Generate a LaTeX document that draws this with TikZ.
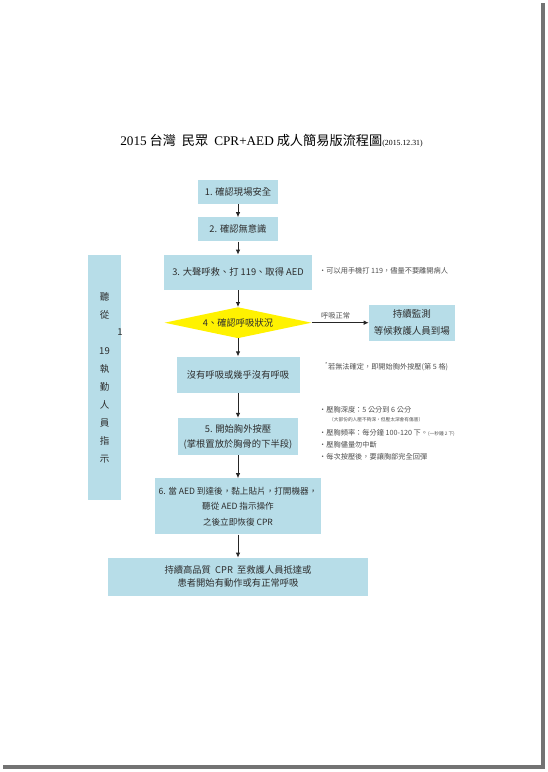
\documentclass[tikz,border=0pt]{standalone}
\usepackage{fontspec}
\setmainfont{Noto Sans CJK TC}
\newfontfamily\titlefont{Liberation Serif}
\usetikzlibrary{arrows.meta}
\usetikzlibrary{shapes.geometric,positioning}
\definecolor{boxblue}{RGB}{183,221,232}
\definecolor{alertyellow}{RGB}{255,242,0}
\definecolor{textgray}{RGB}{45,45,45}
\definecolor{notegray}{RGB}{80,80,80}

\begin{document}
\begin{tikzpicture}[x=1pt, y=-1pt,
    stepbox/.style={rectangle, fill=boxblue, text=textgray, align=center,
    inner sep=0pt, font=\fontsize{9.3}{15}\selectfont},
    decision/.style={diamond, aspect=4.74, fill=alertyellow, text=textgray, inner sep=0pt,
    font=\fontsize{9.3}{15}\selectfont},
    note/.style={anchor=west, text=notegray, inner sep=0pt, font=\fontsize{7.2}{9}\selectfont},
    tag/.style={text=notegray, inner sep=1pt, font=\fontsize{7.2}{9}\selectfont},
    flow/.style={draw=black!85, line width=0.8pt, -{Latex[length=5pt, width=4.5pt]}}]

    % page and its shadow
    \useasboundingbox (0,0) rectangle (547,772);
    \fill [black!55] (3,3) rectangle (545,769);
    \fill [white] (0,0) rectangle (541,765);

    \node (title) [text=black, font=\fontsize{13.2}{15}\selectfont] at (271.5,141)
    {{\titlefont 2015} 台灣\ \ 民眾\ \ {\titlefont CPR+AED} 成人簡易版流程圖{\titlefont\fontsize{7.8}{9}\selectfont(2015.12.31)}};

    \node (scene) [stepbox, minimum width=80pt, minimum height=24pt] at (238,192) {1. 確認現場安全};
    \node (conscious) [stepbox, minimum width=80pt, minimum height=24pt, below=13pt of scene] {2. 確認無意識};
    \node (call) [stepbox, minimum width=148pt, minimum height=35pt, below=13pt of conscious] {3. 大聲呼救、打 119、取得 AED};
    \node (check) [decision, minimum width=147pt, minimum height=31pt, below=17pt of call] {4、確認呼吸狀況};
    \node (nobreath) [stepbox, minimum width=123pt, minimum height=36pt, below=18pt of check] {沒有呼吸或幾乎沒有呼吸};
    \node (compress) [stepbox, minimum width=120pt, minimum height=37pt, below=25pt of nobreath] {5. 開始胸外按壓\\(掌根置放於胸骨的下半段)};
    \node (aed) [stepbox, minimum width=166pt, minimum height=56pt, below=23pt of compress, font=\fontsize{8.6}{15.5}\selectfont]
    {6. 當 AED 到達後，黏上貼片，打開機器，\\聽從 AED 指示操作\\之後立即恢復 CPR};
    \node (continue) [stepbox, minimum width=260pt, minimum height=38pt, below=23pt of aed, font=\fontsize{9.3}{13}\selectfont]
    {持續高品質\ \ CPR\ \ 至救護人員抵達或\\患者開始有動作或有正常呼吸};
    \node (monitor) [stepbox, minimum width=86pt, minimum height=36pt, right=57pt of check, font=\fontsize{9.5}{17}\selectfont]
    {持續監測\\等候救護人員到場};

    % side box
    \node (dispatch) [stepbox, minimum width=33pt, minimum height=245pt, font=\fontsize{9.5}{18}\selectfont] at (104.5,377.5)
    {聽\\從\\~\\19\\執\\勤\\人\\員\\指\\示};
    \node (dispatchone) [text=textgray, inner sep=0pt, font=\fontsize{9.5}{18}\selectfont] at (120,332) {1};

    \draw [flow] (scene) -- (conscious);
    \draw [flow] (conscious) -- (call);
    \draw [flow] (call) -- (check);
    \draw [flow] (check) -- (nobreath);
    \draw [flow] (nobreath) -- (compress);
    \draw [flow] (compress) -- (aed);
    \draw [flow] (aed) -- (continue);
    \draw [flow] (check) -- node [tag, above=2pt, pos=0.42] {呼吸正常} (monitor);

    % notes
    \node (callnote) [note] at (319,271) {·可以用手機打 119，儘量不要離開病人};
    \node (unsurenote) [note] at (325,367) {\textsuperscript{*}若無法確定，即開始胸外按壓(第 5 格)};
    \node (depthnote) [note] at (319,410) {·壓胸深度：5 公分到 6 公分};
    \node (depthsub) [note, font=\fontsize{4.7}{6}\selectfont] at (329,420) {（大部份的人壓不夠深，但壓太深會有傷害）};
    \node (ratenote) [note] at (319,433) {·壓胸頻率：每分鐘 100-120 下。{\fontsize{4.7}{6}\selectfont (一秒鐘 2 下)}};
    \node (pausenote) [note] at (319,445) {·壓胸儘量勿中斷};
    \node (recoilnote) [note] at (319,457) {·每次按壓後，要讓胸部完全回彈};
\end{tikzpicture}
\end{document}
